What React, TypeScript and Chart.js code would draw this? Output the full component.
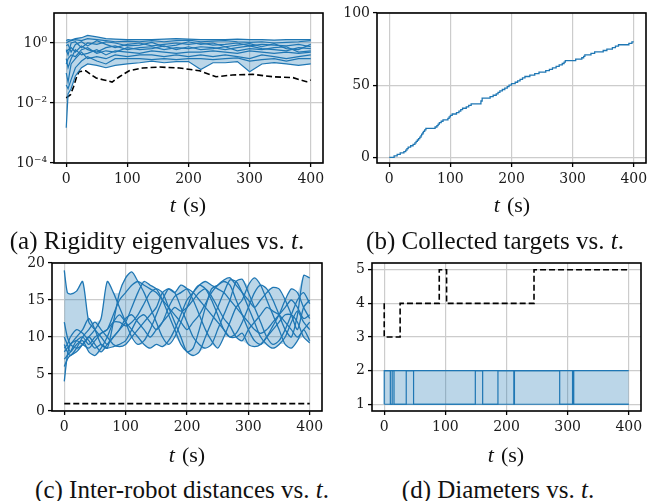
import React, { useEffect, useRef } from 'react';
import { Chart, registerables } from 'chart.js';

Chart.register(...registerables);

// ---------------- data ----------------
const X_TICKS = [0, 100, 200, 300, 400];

// (a) rigidity eigenvalues
const A_T = [0, 3, 8, 15, 25, 35, 50, 65, 80, 100, 120, 140, 160, 180, 200, 220, 240, 260, 280, 300, 320, 340, 360, 380, 400];
const A_L1 = [1.2, 1.3, 1.25, 1.4, 1.5, 1.8, 1.6, 1.4, 1.35, 1.3, 1.3, 1.3, 1.35, 1.4, 1.35, 1.3, 1.3, 1.3, 1.35, 1.3, 1.3, 1.25, 1.3, 1.3, 1.3];
const A_L2 = [1.0, 1.1, 1.2, 1.3, 1.2, 1.4, 1.3, 1.2, 1.1, 1.15, 1.1, 1.2, 1.1, 1.2, 1.25, 1.1, 1.15, 1.2, 1.1, 1.05, 1.1, 1.0, 1.05, 1.1, 1.2];
const A_L3 = [0.8, 0.9, 0.5, 0.9, 1.1, 0.8, 1.2, 0.9, 0.7, 0.9, 1.0, 0.8, 0.9, 1.0, 0.9, 1.0, 0.85, 0.9, 1.0, 0.8, 0.9, 0.85, 0.8, 0.9, 0.75];
const A_L4 = [0.5, 0.6, 0.7, 0.5, 0.8, 0.6, 0.5, 0.7, 0.8, 0.6, 0.7, 0.75, 0.6, 0.7, 0.65, 0.75, 0.7, 0.6, 0.7, 0.8, 0.65, 0.6, 0.55, 0.7, 0.65];
const A_L5 = [0.3, 0.15, 0.3, 0.6, 0.4, 0.45, 0.6, 0.4, 0.55, 0.5, 0.45, 0.55, 0.5, 0.45, 0.5, 0.5, 0.55, 0.5, 0.45, 0.55, 0.5, 0.45, 0.5, 0.45, 0.5];
const A_L6 = [0.1, 0.05, 0.2, 0.3, 0.5, 0.3, 0.35, 0.3, 0.4, 0.35, 0.4, 0.4, 0.35, 0.4, 0.35, 0.4, 0.35, 0.4, 0.35, 0.3, 0.4, 0.35, 0.3, 0.35, 0.4];
const A_L7 = [0.04, 0.03, 0.06, 0.15, 0.25, 0.35, 0.25, 0.2, 0.3, 0.3, 0.3, 0.28, 0.3, 0.28, 0.3, 0.3, 0.28, 0.3, 0.32, 0.25, 0.28, 0.3, 0.25, 0.3, 0.3];
const A_L8 = [0.0015, 0.02, 0.03, 0.08, 0.15, 0.2, 0.18, 0.15, 0.18, 0.2, 0.22, 0.25, 0.22, 0.24, 0.24, 0.13, 0.22, 0.22, 0.24, 0.11, 0.2, 0.22, 0.2, 0.18, 0.2];
const A_L9 = [0.6, 0.4, 1.0, 1.1, 0.7, 1.0, 0.9, 1.1, 1.0, 0.8, 0.85, 1.05, 0.75, 0.85, 1.1, 0.9, 1.0, 0.75, 0.85, 0.95, 0.75, 0.95, 0.65, 0.6, 0.9];
const A_L10 = [0.2, 0.3, 0.4, 0.35, 0.6, 0.7, 0.45, 0.55, 0.5, 0.7, 0.6, 0.65, 0.8, 0.6, 0.75, 0.6, 0.65, 0.75, 0.55, 0.65, 0.6, 0.7, 0.75, 0.5, 0.55];
const A_LINES = [A_L1, A_L2, A_L3, A_L4, A_L5, A_L6, A_L7, A_L8, A_L9, A_L10];
const A_MIN_T = [0, 7, 12, 18, 21, 32, 40, 49, 60, 75, 87, 103, 125, 152, 185, 218, 245, 272, 305, 338, 371, 393, 400];
const A_MIN_V = [0.0147, 0.019, 0.035, 0.086, 0.11, 0.119, 0.09, 0.068, 0.06, 0.05, 0.075, 0.119, 0.147, 0.158, 0.147, 0.119, 0.075, 0.086, 0.09, 0.075, 0.07, 0.051, 0.058];
const A_Y_TICKS = [1e-4, 1e-2, 1];
const A_Y_LABELS = ['10⁻⁴', '10⁻²', '10⁰'];

// (b) collected targets
const B_T = [0, 8, 13, 18, 24, 27, 29, 31, 35, 39, 42, 44, 46, 48, 50, 52, 53, 55, 56, 58, 60, 75, 78, 80, 82, 85, 88, 96, 98, 100, 103, 110, 114, 117, 120, 126, 130, 134, 150, 152, 165, 170, 175, 178, 181, 185, 189, 193, 196, 200, 206, 210, 214, 218, 222, 230, 238, 245, 256, 262, 267, 273, 278, 283, 286, 288, 305, 315, 318, 320, 330, 336, 350, 356, 365, 370, 375, 392, 397, 400];
const B_N = [0, 1, 2, 3, 4, 5, 6, 7, 8, 9, 10, 11, 12, 13, 14, 15, 16, 17, 18, 19, 20, 21, 22, 23, 24, 25, 26, 27, 28, 29, 30, 31, 32, 33, 34, 35, 36, 37, 39, 41, 42, 43, 44, 45, 46, 47, 48, 49, 50, 51, 52, 53, 54, 55, 56, 57, 58, 59, 60, 61, 62, 63, 64, 65, 66, 67, 68, 69, 70, 71, 72, 73, 74, 75, 76, 77, 78, 79, 80, 80];
const B_Y_TICKS = [0, 50, 100];

// (c) inter-robot distances
const C_T = [0, 5, 10, 20, 30, 40, 50, 60, 70, 80, 90, 100, 110, 120, 130, 140, 150, 160, 170, 180, 190, 200, 210, 220, 230, 240, 250, 260, 270, 280, 290, 300, 310, 320, 330, 340, 350, 360, 370, 380, 390, 400];
const C_L1 = [19, 16, 15.8, 16.2, 17.5, 12, 11, 10, 9, 10, 11, 12.5, 13, 12, 11, 10, 11, 12, 13, 14, 13.5, 14, 15, 16, 16.5, 15.5, 14, 12.5, 11.5, 10, 9.5, 11, 12, 13, 14, 13.5, 13, 12, 11, 10, 11, 12];
const C_L2 = [12, 10, 9, 8.5, 9, 10, 11, 12.5, 17.5, 16, 14, 12, 10, 9, 9.5, 11, 13, 15, 16.5, 16, 14, 12, 10, 9, 8.5, 9, 11, 13, 15, 17.5, 17.8, 16, 14, 12, 10, 9, 9.5, 11, 13, 15, 16, 14.5];
const C_L3 = [8, 8.5, 9, 10, 11, 12.5, 11, 9, 8.5, 12, 16, 18, 18.8, 17.5, 16, 14, 12, 10, 9, 10, 12, 14, 16, 17, 16.5, 15, 13, 11, 10, 10.5, 12, 14, 16, 17, 16.5, 15, 13, 11, 10, 13, 18.3, 18];
const C_L4 = [6, 7, 7.5, 8, 9, 10, 9, 8, 9, 10, 11, 12, 14, 16, 17.5, 17, 16.5, 15, 13, 11, 9, 8, 7.5, 8, 10, 12, 14, 16, 17.7, 17.5, 16, 14, 12, 10, 9, 8.5, 9, 10, 12, 13.5, 12, 11];
const C_L5 = [9, 8, 7.5, 8.5, 10, 11, 12, 11, 10, 9, 8.7, 9, 10, 11, 12, 13, 14, 16, 16.5, 16, 17, 16.5, 15, 13, 11, 9.5, 8.5, 10, 12, 14, 15, 17, 18, 17, 15, 13, 11, 9, 8.5, 9.5, 11, 9.5];
const C_L6 = [10, 9, 8, 9, 9.5, 8, 7.5, 8.5, 10, 12, 13, 12, 11, 10, 9, 8.5, 9, 8.7, 9.5, 11, 13, 15, 16, 17, 17.5, 17, 16.5, 16, 15, 14, 13, 12, 11, 10.5, 11, 12, 13, 14, 15, 14, 12.5, 13];
const C_L7 = [7, 7.5, 8, 9.5, 10, 9, 10, 10.5, 11, 12, 12, 11.5, 12, 13, 14.5, 16, 16.5, 16, 14, 12, 10, 8, 8.5, 11, 14, 16.5, 17, 17.5, 17, 15, 13, 11, 9.5, 9, 10, 11.5, 13, 15, 16.5, 16, 14, 12.5];
const C_L8 = [8.5, 9, 10, 11, 10.5, 9.5, 8.5, 9, 8.5, 8.7, 9, 9.5, 11, 12.5, 13, 12, 11, 12, 14, 15.5, 16, 16.5, 16, 15, 14, 13, 12, 11, 10, 10, 10.5, 9, 8.7, 9, 10, 11, 12, 13, 13, 12, 10, 9.2];
const C_L9 = [4, 7.5, 9, 9.5, 9, 8.5, 9.5, 10.5, 11, 13, 15, 16, 17, 17.5, 17, 16.5, 16, 15, 14, 13, 12, 11, 12, 13, 14.5, 16, 17, 17.7, 18, 17, 16, 15, 14, 15, 16, 16.7, 16.5, 15, 13, 11, 14, 15];
const C_LINES = [C_L1, C_L2, C_L3, C_L4, C_L5, C_L6, C_L7, C_L8, C_L9];
const C_MIN_T = [0, 400];
const C_MIN_V = [1, 1];
const C_Y_TICKS = [0, 5, 10, 15, 20];

// (d) diameters
const D_DASH_T = [0, 0, 26, 90, 102, 245, 400];
const D_DASH_V = [4, 3, 4, 5, 4, 5, 5];
const D_SW_T = [0, 0, 10, 13, 16, 36, 48, 149, 161, 186, 212, 213, 287, 308, 310, 400];
const D_SW_V = [1, 2, 1, 2, 1, 2, 1, 2, 1, 2, 1, 2, 1, 2, 1, 1];
const D_BAND_T = [0, 400];
const D_BAND_LO = [1, 1];
const D_BAND_HI = [2, 2];
const D_Y_TICKS = [1, 2, 3, 4, 5];

// ---------------- styling helpers ----------------
const BLUE = '#1f77b4';
const FILL = 'rgba(31,119,180,0.3)';
const SERIF = "'Liberation Serif', 'Times New Roman', serif";
const TICK_FAMILY = "'DejaVu Serif', serif";
const TICK_FONT = { family: TICK_FAMILY, size: 14 };

Chart.defaults.font.family = TICK_FAMILY;

const pts = (ts: number[], vs: number[]) => ts.map((t, i) => ({ x: t, y: vs[i] }));
const env = (lines: number[][], fn: (a: number, b: number) => number) =>
  lines[0].map((_, i) => lines.reduce((m, l) => fn(m, l[i]), lines[0][i]));

const framePlugin = {
  id: 'frame',
  afterDraw(chart: any) {
    const { ctx, chartArea: a } = chart;
    ctx.save();
    ctx.strokeStyle = '#000';
    ctx.lineWidth = 1.6;
    ctx.strokeRect(a.left, a.top, a.right - a.left, a.bottom - a.top);
    ctx.restore();
  },
};

const gridOpts = {
  color: '#cccccc',
  lineWidth: 1.2,
  drawTicks: true,
  tickLength: 4,
  tickColor: '#000',
  tickWidth: 1.3,
};

function xAxis(height: number) {
  return {
    type: 'linear',
    min: -20,
    max: 420,
    afterBuildTicks: (s: any) => {
      s.ticks = X_TICKS.map((v) => ({ value: v }));
    },
    afterFit: (s: any) => {
      s.height = height;
    },
    grid: gridOpts,
    border: { display: false },
    ticks: { font: TICK_FONT, color: '#1a1a1a', padding: 4, maxRotation: 0, autoSkip: false, callback: (v: any) => String(v) },
  };
}

function yAxis(width: number, min: number, max: number, ticks: number[], labels?: string[], log = false) {
  return {
    type: log ? 'logarithmic' : 'linear',
    min,
    max,
    afterBuildTicks: (s: any) => {
      s.ticks = ticks.map((v) => ({ value: v }));
    },
    afterFit: (s: any) => {
      s.width = width;
    },
    grid: gridOpts,
    border: { display: false },
    ticks: {
      font: TICK_FONT,
      color: '#1a1a1a',
      padding: 3,
      autoSkip: false,
      callback: (v: any) => {
        const i = ticks.indexOf(Number(v));
        return labels && i >= 0 ? labels[i] : String(v);
      },
    },
  };
}

function baseOptions(pad: any, x: any, y: any) {
  return {
    responsive: false,
    animation: false,
    devicePixelRatio: 1,
    events: [],
    layout: { padding: pad },
    plugins: {
      legend: { display: false },
      tooltip: { enabled: false },
      filler: { drawTime: 'beforeDatasetsDraw' },
    },
    scales: { x, y },
  };
}

const lineDs = (data: any[], extra: any = {}) => ({
  data,
  borderColor: BLUE,
  borderWidth: 1.2,
  pointRadius: 0,
  fill: false,
  tension: 0,
  ...extra,
});

const dashDs = (data: any[], extra: any = {}) => ({
  data,
  borderColor: '#000',
  borderWidth: 1.6,
  borderDash: [6, 3],
  pointRadius: 0,
  fill: false,
  ...extra,
});

// ---------------- chart configs ----------------
function configA() {
  const hi = env(A_LINES, Math.max);
  const lo = env(A_LINES, Math.min);
  return {
    type: 'line',
    data: {
      datasets: [
        lineDs(pts(A_T, hi), { borderWidth: 0, borderColor: 'rgba(0,0,0,0)' }),
        lineDs(pts(A_T, lo), { borderWidth: 0, borderColor: 'rgba(0,0,0,0)', fill: '-1', backgroundColor: FILL }),
        ...A_LINES.map((l) => lineDs(pts(A_T, l))),
        dashDs(pts(A_MIN_T, A_MIN_V)),
      ],
    },
    options: baseOptions(
      { left: 0, right: 7, top: 13, bottom: 0 },
      xAxis(32),
      yAxis(54, 1e-4, 10, A_Y_TICKS, A_Y_LABELS, true)
    ),
    plugins: [framePlugin],
  };
}

function configB() {
  return {
    type: 'line',
    data: {
      datasets: [lineDs(pts(B_T, B_N), { stepped: true, borderWidth: 1.3 })],
    },
    options: baseOptions({ left: 0, right: 11, top: 13, bottom: 0 }, xAxis(32), yAxis(47, -3.95, 100, B_Y_TICKS)),
    plugins: [framePlugin],
  };
}

function configC() {
  const hi = env(C_LINES, Math.max);
  const lo = env(C_LINES, Math.min);
  return {
    type: 'line',
    data: {
      datasets: [
        lineDs(pts(C_T, hi), { borderWidth: 0, borderColor: 'rgba(0,0,0,0)', tension: 0.25 }),
        lineDs(pts(C_T, lo), { borderWidth: 0, borderColor: 'rgba(0,0,0,0)', tension: 0.25, fill: '-1', backgroundColor: FILL }),
        ...C_LINES.map((l) => lineDs(pts(C_T, l), { tension: 0.25, borderWidth: 1.3 })),
        dashDs(pts(C_MIN_T, C_MIN_V)),
      ],
    },
    options: baseOptions({ left: 0, right: 8, top: 13, bottom: 0 }, xAxis(34), yAxis(52, 0, 20, C_Y_TICKS)),
    plugins: [framePlugin],
  };
}

function configD() {
  return {
    type: 'line',
    data: {
      datasets: [
        lineDs(pts(D_BAND_T, D_BAND_HI)),
        lineDs(pts(D_BAND_T, D_BAND_LO), { fill: '-1', backgroundColor: FILL }),
        lineDs(pts(D_SW_T, D_SW_V), { stepped: true }),
        dashDs(pts(D_DASH_T, D_DASH_V), { stepped: true }),
      ],
    },
    options: baseOptions({ left: 0, right: 16, top: 13, bottom: 0 }, xAxis(34), yAxis(42, 0.8, 5.2, D_Y_TICKS)),
    plugins: [framePlugin],
  };
}

// ---------------- components ----------------
function Panel({ left, top, width, height, make }: any) {
  const ref = useRef<HTMLCanvasElement | null>(null);
  useEffect(() => {
    if (!ref.current) return;
    const chart = new Chart(ref.current, make() as any);
    return () => chart.destroy();
  }, []);
  return (
    <canvas
      ref={ref}
      width={width}
      height={height}
      style={{ position: 'absolute', left, top, width, height }}
    />
  );
}

function Label({ x, y, size, children }: any) {
  return (
    <div
      style={{
        position: 'absolute',
        left: x,
        top: y,
        transform: 'translate(-50%, -50%)',
        fontFamily: SERIF,
        fontSize: size,
        lineHeight: 1,
        whiteSpace: 'nowrap',
        color: '#111',
      }}
    >
      {children}
    </div>
  );
}

const TLabel = ({ x, y }: any) => (
  <Label x={x} y={y} size={22}>
    <i>t</i>
    <span style={{ marginLeft: 7 }}>(s)</span>
  </Label>
);

export default function App() {
  return (
    <div style={{ position: 'absolute', left: 0, top: 0, width: 657, height: 501, background: '#fff', overflow: 'hidden' }}>
      <Panel left={0} top={0} width={330} height={195} make={configA} />
      <Panel left={330} top={0} width={327} height={195} make={configB} />
      <Panel left={0} top={250} width={330} height={195} make={configC} />
      <Panel left={330} top={250} width={327} height={195} make={configD} />
      <TLabel x={188} y={205} />
      <TLabel x={512} y={205} />
      <TLabel x={187} y={455} />
      <TLabel x={506} y={455} />
      <Label x={157} y={240} size={25}>(a) Rigidity eigenvalues vs. <i>t</i>.</Label>
      <Label x={495} y={240} size={25}>(b) Collected targets vs. <i>t</i>.</Label>
      <Label x={182} y={489} size={25}>(c) Inter-robot distances vs. <i>t</i>.</Label>
      <Label x={498} y={489} size={25}>(d) Diameters vs. <i>t</i>.</Label>
    </div>
  );
}
